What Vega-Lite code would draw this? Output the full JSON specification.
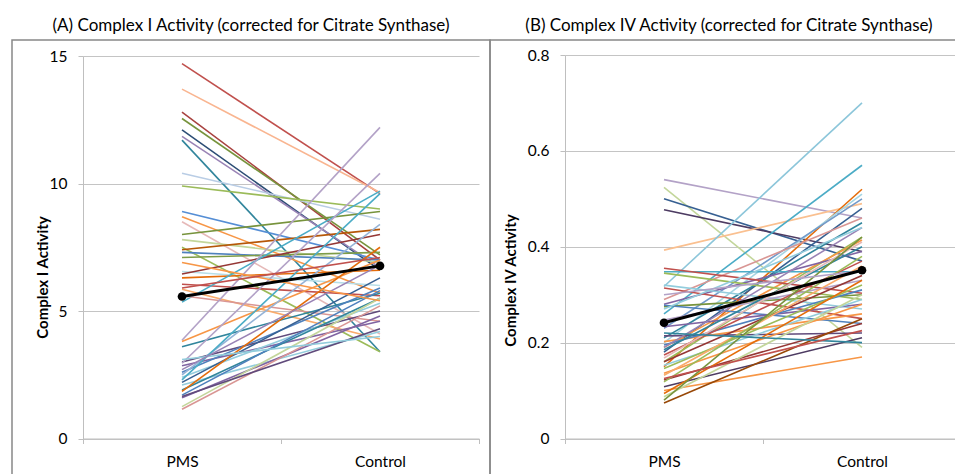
{
  "$schema": "https://vega.github.io/schema/vega-lite/v6.json",
  "padding": {"left": 11, "top": 12, "right": 0, "bottom": 0},
  "background": "white",
  "columns": 2,
  "spacing": 0,
  "bounds": "flush",
  "resolve": {"scale": {"color": "independent"}},
  "config": {
    "view": {"stroke": "#888888", "strokeWidth": 1.5},
    "font": "Lato",
    "axis": {"labelFont": "Lato", "titleFont": "Lato", "labelColor": "#000", "titleColor": "#000"}
  },
  "datasets": {
    "a": [
      {"id":"a01","g":"PMS","v":14.7},{"id":"a01","g":"Control","v":9.6},
      {"id":"a02","g":"PMS","v":13.7},{"id":"a02","g":"Control","v":9.65},
      {"id":"a03","g":"PMS","v":12.8},{"id":"a03","g":"Control","v":7.0},
      {"id":"a04","g":"PMS","v":12.55},{"id":"a04","g":"Control","v":7.2},
      {"id":"a05","g":"PMS","v":12.1},{"id":"a05","g":"Control","v":6.6},
      {"id":"a06","g":"PMS","v":11.85},{"id":"a06","g":"Control","v":6.7},
      {"id":"a07","g":"PMS","v":11.7},{"id":"a07","g":"Control","v":3.4},
      {"id":"a08","g":"PMS","v":10.4},{"id":"a08","g":"Control","v":8.6},
      {"id":"a09","g":"PMS","v":9.9},{"id":"a09","g":"Control","v":9.0},
      {"id":"a10","g":"PMS","v":8.9},{"id":"a10","g":"Control","v":7.0},
      {"id":"a11","g":"PMS","v":8.7},{"id":"a11","g":"Control","v":5.7},
      {"id":"a12","g":"PMS","v":8.5},{"id":"a12","g":"Control","v":4.1},
      {"id":"a13","g":"PMS","v":8.0},{"id":"a13","g":"Control","v":8.9},
      {"id":"a14","g":"PMS","v":7.8},{"id":"a14","g":"Control","v":6.9},
      {"id":"a15","g":"PMS","v":7.5},{"id":"a15","g":"Control","v":3.4},
      {"id":"a16","g":"PMS","v":7.4},{"id":"a16","g":"Control","v":8.2},
      {"id":"a17","g":"PMS","v":7.3},{"id":"a17","g":"Control","v":7.0},
      {"id":"a18","g":"PMS","v":7.1},{"id":"a18","g":"Control","v":7.3},
      {"id":"a19","g":"PMS","v":6.55},{"id":"a19","g":"Control","v":6.0},
      {"id":"a20","g":"PMS","v":6.45},{"id":"a20","g":"Control","v":8.0},
      {"id":"a21","g":"PMS","v":6.3},{"id":"a21","g":"Control","v":6.6},
      {"id":"a22","g":"PMS","v":6.05},{"id":"a22","g":"Control","v":5.6},
      {"id":"a23","g":"PMS","v":5.85},{"id":"a23","g":"Control","v":3.9},
      {"id":"a24","g":"PMS","v":5.35},{"id":"a24","g":"Control","v":9.7},
      {"id":"a25","g":"PMS","v":5.6},{"id":"a25","g":"Control","v":4.6},
      {"id":"a26","g":"PMS","v":3.85},{"id":"a26","g":"Control","v":12.2},
      {"id":"a27","g":"PMS","v":3.8},{"id":"a27","g":"Control","v":7.0},
      {"id":"a28","g":"PMS","v":3.6},{"id":"a28","g":"Control","v":5.7},
      {"id":"a29","g":"PMS","v":3.0},{"id":"a29","g":"Control","v":5.0},
      {"id":"a30","g":"PMS","v":2.95},{"id":"a30","g":"Control","v":10.4},
      {"id":"a31","g":"PMS","v":2.85},{"id":"a31","g":"Control","v":4.6},
      {"id":"a32","g":"PMS","v":2.6},{"id":"a32","g":"Control","v":5.9},
      {"id":"a33","g":"PMS","v":2.5},{"id":"a33","g":"Control","v":8.4},
      {"id":"a34","g":"PMS","v":2.4},{"id":"a34","g":"Control","v":5.3},
      {"id":"a35","g":"PMS","v":2.3},{"id":"a35","g":"Control","v":9.6},
      {"id":"a36","g":"PMS","v":2.2},{"id":"a36","g":"Control","v":6.3},
      {"id":"a37","g":"PMS","v":2.1},{"id":"a37","g":"Control","v":4.2},
      {"id":"a38","g":"PMS","v":1.9},{"id":"a38","g":"Control","v":5.5},
      {"id":"a39","g":"PMS","v":1.85},{"id":"a39","g":"Control","v":7.5},
      {"id":"a40","g":"PMS","v":1.7},{"id":"a40","g":"Control","v":5.8},
      {"id":"a41","g":"PMS","v":1.6},{"id":"a41","g":"Control","v":4.8},
      {"id":"a42","g":"PMS","v":1.25},{"id":"a42","g":"Control","v":5.5},
      {"id":"a43","g":"PMS","v":1.15},{"id":"a43","g":"Control","v":5.2},
      {"id":"a44","g":"PMS","v":1.65},{"id":"a44","g":"Control","v":4.3},
      {"id":"a45","g":"PMS","v":3.1},{"id":"a45","g":"Control","v":4.0},
      {"id":"a46","g":"PMS","v":2.7},{"id":"a46","g":"Control","v":6.8},
      {"id":"a47","g":"PMS","v":6.9},{"id":"a47","g":"Control","v":5.4},
      {"id":"a48","g":"PMS","v":5.9},{"id":"a48","g":"Control","v":7.1}
    ],
    "ma": [{"g":"PMS","v":5.57},{"g":"Control","v":6.77}],
    "b": [
      {"id":"b01","g":"PMS","v":0.54},{"id":"b01","g":"Control","v":0.46},
      {"id":"b02","g":"PMS","v":0.524},{"id":"b02","g":"Control","v":0.19},
      {"id":"b03","g":"PMS","v":0.5},{"id":"b03","g":"Control","v":0.37},
      {"id":"b04","g":"PMS","v":0.477},{"id":"b04","g":"Control","v":0.39},
      {"id":"b05","g":"PMS","v":0.393},{"id":"b05","g":"Control","v":0.49},
      {"id":"b06","g":"PMS","v":0.317},{"id":"b06","g":"Control","v":0.7},
      {"id":"b07","g":"PMS","v":0.26},{"id":"b07","g":"Control","v":0.57},
      {"id":"b08","g":"PMS","v":0.15},{"id":"b08","g":"Control","v":0.52},
      {"id":"b09","g":"PMS","v":0.2},{"id":"b09","g":"Control","v":0.51},
      {"id":"b10","g":"PMS","v":0.23},{"id":"b10","g":"Control","v":0.5},
      {"id":"b11","g":"PMS","v":0.18},{"id":"b11","g":"Control","v":0.48},
      {"id":"b12","g":"PMS","v":0.29},{"id":"b12","g":"Control","v":0.46},
      {"id":"b13","g":"PMS","v":0.21},{"id":"b13","g":"Control","v":0.45},
      {"id":"b14","g":"PMS","v":0.16},{"id":"b14","g":"Control","v":0.42},
      {"id":"b15","g":"PMS","v":0.19},{"id":"b15","g":"Control","v":0.414},
      {"id":"b16","g":"PMS","v":0.28},{"id":"b16","g":"Control","v":0.39},
      {"id":"b17","g":"PMS","v":0.348},{"id":"b17","g":"Control","v":0.348},
      {"id":"b18","g":"PMS","v":0.355},{"id":"b18","g":"Control","v":0.303},
      {"id":"b19","g":"PMS","v":0.345},{"id":"b19","g":"Control","v":0.29},
      {"id":"b20","g":"PMS","v":0.32},{"id":"b20","g":"Control","v":0.27},
      {"id":"b21","g":"PMS","v":0.314},{"id":"b21","g":"Control","v":0.25},
      {"id":"b22","g":"PMS","v":0.275},{"id":"b22","g":"Control","v":0.3},
      {"id":"b23","g":"PMS","v":0.278},{"id":"b23","g":"Control","v":0.24},
      {"id":"b24","g":"PMS","v":0.247},{"id":"b24","g":"Control","v":0.33},
      {"id":"b25","g":"PMS","v":0.233},{"id":"b25","g":"Control","v":0.28},
      {"id":"b26","g":"PMS","v":0.214},{"id":"b26","g":"Control","v":0.22},
      {"id":"b27","g":"PMS","v":0.202},{"id":"b27","g":"Control","v":0.26},
      {"id":"b28","g":"PMS","v":0.195},{"id":"b28","g":"Control","v":0.31},
      {"id":"b29","g":"PMS","v":0.185},{"id":"b29","g":"Control","v":0.4},
      {"id":"b30","g":"PMS","v":0.174},{"id":"b30","g":"Control","v":0.37},
      {"id":"b31","g":"PMS","v":0.168},{"id":"b31","g":"Control","v":0.41},
      {"id":"b32","g":"PMS","v":0.16},{"id":"b32","g":"Control","v":0.34},
      {"id":"b33","g":"PMS","v":0.153},{"id":"b33","g":"Control","v":0.29},
      {"id":"b34","g":"PMS","v":0.146},{"id":"b34","g":"Control","v":0.32},
      {"id":"b35","g":"PMS","v":0.136},{"id":"b35","g":"Control","v":0.28},
      {"id":"b36","g":"PMS","v":0.132},{"id":"b36","g":"Control","v":0.36},
      {"id":"b37","g":"PMS","v":0.122},{"id":"b37","g":"Control","v":0.24},
      {"id":"b38","g":"PMS","v":0.118},{"id":"b38","g":"Control","v":0.38},
      {"id":"b39","g":"PMS","v":0.108},{"id":"b39","g":"Control","v":0.21},
      {"id":"b40","g":"PMS","v":0.1},{"id":"b40","g":"Control","v":0.17},
      {"id":"b41","g":"PMS","v":0.094},{"id":"b41","g":"Control","v":0.33},
      {"id":"b42","g":"PMS","v":0.087},{"id":"b42","g":"Control","v":0.3},
      {"id":"b43","g":"PMS","v":0.08},{"id":"b43","g":"Control","v":0.42},
      {"id":"b44","g":"PMS","v":0.074},{"id":"b44","g":"Control","v":0.25},
      {"id":"b45","g":"PMS","v":0.19},{"id":"b45","g":"Control","v":0.44},
      {"id":"b46","g":"PMS","v":0.27},{"id":"b46","g":"Control","v":0.44},
      {"id":"b47","g":"PMS","v":0.3},{"id":"b47","g":"Control","v":0.35},
      {"id":"b48","g":"PMS","v":0.22},{"id":"b48","g":"Control","v":0.2},
      {"id":"b49","g":"PMS","v":0.125},{"id":"b49","g":"Control","v":0.225}
    ],
    "mb": [{"g":"PMS","v":0.2415},{"g":"Control","v":0.351}]
  },
  "concat": [
    {
      "width": 478, "height": 28,
      "data": {"values": [{"t": "(A) Complex I Activity (corrected for Citrate Synthase)"}]},
      "mark": {"type": "text", "fontSize": 17, "font": "Lato", "color": "#000"},
      "encoding": {"text": {"field": "t", "type": "nominal"}}
    },
    {
      "width": 478, "height": 28,
      "data": {"values": [{"t": "(B) Complex IV Activity (corrected for Citrate Synthase)"}]},
      "mark": {"type": "text", "fontSize": 17, "font": "Lato", "color": "#000"},
      "encoding": {"text": {"field": "t", "type": "nominal"}}
    },
    {
      "width": 478, "height": 440,
      "layer": [
        {
          "data": {"name": "a"},
          "mark": {"type": "line", "strokeWidth": 1.6},
          "encoding": {
            "x": {"field": "g", "type": "nominal", "sort": ["PMS", "Control"], "bandPosition": 0.5,
                  "scale": {"type": "band", "range": [71, 467], "paddingInner": 0, "paddingOuter": 0},
                  "axis": {"title": null, "grid": false, "tickBand": "extent", "labelAngle": 0, "domainColor": "#bfbfbf", "tickColor": "#bfbfbf", "tickSize": 5, "labelFontSize": 15.5, "labelPadding": 10.5, "offset": -41.5}},
            "y": {"field": "v", "type": "quantitative",
                  "scale": {"domain": [0, 15], "range": [398.5, 16], "nice": false, "zero": false},
                  "axis": {"values": [0, 5, 10, 15], "grid": true, "gridColor": "#c4c4c4", "domainColor": "#bfbfbf", "tickColor": "#bfbfbf", "tickSize": 5, "labelFontSize": 15.5, "labelPadding": 11, "offset": -71,
                           "title": "Complex I Activity", "titleFontSize": 15, "titleFontWeight": "bold", "titleX": -41, "titleY": 237, "titleAngle": -90, "titleBaseline": "middle", "titleAlign": "center"}},
            "color": {"field": "id", "type": "nominal", "legend": null,
                      "scale": {"range": ["#C0504D","#F9B590","#A8423F","#77933C","#2C4D75","#9983B5","#31859C","#B9CDE5","#9BBB59","#558ED5","#F79646","#E6B9B8","#77933C","#C3D69B","#9BBB59","#B65708","#4F81BD","#7E9C47","#B7DEE8","#953735","#E46C0A","#C0504D","#F9AB6B","#4BACC6","#D99694","#B3A2C7","#F79646","#31859C","#604A7B","#B3A2C7","#8064A2","#4F81BD","#95B3D7","#93CDDD","#4BACC6","#376092","#93CDDD","#31859C","#E46C0A","#4F81BD","#8064A2","#C3D69B","#D99694","#604A7B","#92CDDC","#9983B5","#F79646","#C0504D"]}},
            "detail": {"field": "id"}
          }
        },
        {
          "data": {"name": "ma"},
          "mark": {"type": "line", "color": "#000", "strokeWidth": 3},
          "encoding": {
            "x": {"field": "g", "type": "nominal", "sort": ["PMS", "Control"], "bandPosition": 0.5},
            "y": {"field": "v", "type": "quantitative"}
          }
        },
        {
          "data": {"name": "ma"},
          "mark": {"type": "point", "filled": true, "color": "#000", "size": 75, "opacity": 1},
          "encoding": {
            "x": {"field": "g", "type": "nominal", "sort": ["PMS", "Control"], "bandPosition": 0.5},
            "y": {"field": "v", "type": "quantitative"}
          }
        }
      ]
    },
    {
      "width": 478, "height": 440,
      "layer": [
        {
          "data": {"name": "b"},
          "mark": {"type": "line", "strokeWidth": 1.6},
          "encoding": {
            "x": {"field": "g", "type": "nominal", "sort": ["PMS", "Control"], "bandPosition": 0.5,
                  "scale": {"type": "band", "range": [75, 471], "paddingInner": 0, "paddingOuter": 0},
                  "axis": {"title": null, "grid": false, "tickBand": "extent", "labelAngle": 0, "domainColor": "#bfbfbf", "tickColor": "#bfbfbf", "tickSize": 5, "labelFontSize": 15.5, "labelPadding": 10.5, "offset": -41.5}},
            "y": {"field": "v", "type": "quantitative",
                  "scale": {"domain": [0, 0.8], "range": [398.5, 15], "nice": false, "zero": false},
                  "axis": {"values": [0, 0.2, 0.4, 0.6, 0.8], "format": "~g", "grid": true, "gridColor": "#c4c4c4", "domainColor": "#bfbfbf", "tickColor": "#bfbfbf", "tickSize": 5, "labelFontSize": 15.5, "labelPadding": 11, "offset": -75,
                           "title": "Complex IV Activity", "titleFontSize": 15, "titleFontWeight": "bold", "titleX": -55, "titleY": 240, "titleAngle": -90, "titleBaseline": "middle", "titleAlign": "center"}},
            "color": {"field": "id", "type": "nominal", "legend": null,
                      "scale": {"range": ["#B3A2C7","#C3D69B","#376092","#4D3B62","#FAC090","#8CC6DA","#4BACC6","#E46C0A","#A5D5E2","#729ACA","#376092","#D99694","#31859C","#9BBB59","#F79646","#8064A2","#4BACC6","#C0504D","#9BBB59","#93CDDD","#C0504D","#77933C","#4F81BD","#B3A2C7","#8064A2","#604A7B","#F79646","#4F81BD","#31859C","#C0504D","#E6B9B8","#953735","#92CDDC","#9BBB59","#F79646","#F9AB6B","#953735","#9BBB59","#4D3B62","#F79646","#E46C0A","#C3D69B","#77933C","#984807","#9983B5","#93CDDD","#B3A2C7","#31859C","#C0504D"]}},
            "detail": {"field": "id"}
          }
        },
        {
          "data": {"name": "mb"},
          "mark": {"type": "line", "color": "#000", "strokeWidth": 3},
          "encoding": {
            "x": {"field": "g", "type": "nominal", "sort": ["PMS", "Control"], "bandPosition": 0.5},
            "y": {"field": "v", "type": "quantitative"}
          }
        },
        {
          "data": {"name": "mb"},
          "mark": {"type": "point", "filled": true, "color": "#000", "size": 75, "opacity": 1},
          "encoding": {
            "x": {"field": "g", "type": "nominal", "sort": ["PMS", "Control"], "bandPosition": 0.5},
            "y": {"field": "v", "type": "quantitative"}
          }
        }
      ]
    }
  ]
}
